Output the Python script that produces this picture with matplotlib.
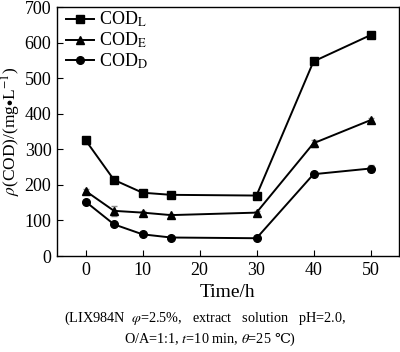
import matplotlib
matplotlib.use('Agg')
import matplotlib.pyplot as plt

plt.rcParams['font.family'] = ['Liberation Serif', 'DejaVu Serif']
plt.rcParams['mathtext.fontset'] = 'stix'

# Data
time = [0, 5, 10, 15, 30, 40, 50]
cod_l = [326, 214, 178, 172, 170, 547, 621]
cod_e = [183, 127, 122, 115, 122, 317, 382]
cod_d = [153, 89, 61, 52, 50, 230, 246]
err_l = [10, 8, 4, 4, 4, 5, 8]
err_e = [4, 15, 5, 4, 5, 10, 5]
err_d = [4, 4, 4, 3, 3, 4, 10]

fig = plt.figure(figsize=(4, 3.52), dpi=100)
ax = fig.add_axes([0.1425, 0.2727, 0.855, 0.7073])

series = [(cod_l, err_l, 's', r'COD$_\mathrm{L}$'),
          (cod_e, err_e, '^', r'COD$_\mathrm{E}$'),
          (cod_d, err_d, 'o', r'COD$_\mathrm{D}$')]
handles = []
for vals, err, m, lab in series:
    ax.errorbar(time, vals, yerr=err, fmt='none', ecolor='#888888',
                elinewidth=1, capsize=2, zorder=2)
    ln, = ax.plot(time, vals, color='black', marker=m, markersize=5.5,
                  linewidth=1.4, label=lab, zorder=3)
    handles.append(ln)

ax.set_xlim(-5, 55)
ax.set_ylim(0, 700)
ax.set_xticks([0, 10, 20, 30, 40, 50])
ax.set_yticks(range(0, 701, 100))
ax.tick_params(direction='in', labelsize=13, length=4, pad=4)
for s in ax.spines.values():
    s.set_linewidth(1)

ax.set_xlabel('Time/h', fontsize=14, labelpad=4)
ax.set_ylabel(r'$\rho$(COD)/(mg$\bullet$L$^{-1}$)', fontsize=12.5, labelpad=1)

ax.legend(handles=handles, loc='upper left', bbox_to_anchor=(0.02, 0.995),
          frameon=False, fontsize=13, handlelength=1.55, handletextpad=0.3,
          labelspacing=0.08, borderpad=0.1, borderaxespad=0)

fig.text(0.5125, 0.097, r'(LIX984N  $\varphi$=2.5%,   extract   solution   pH=2.0,',
         ha='center', va='center', fontsize=10.3)
t2 = fig.text(0.31, 0.035, r'O/A=1:1, $t$=10 min, $\theta$=25',
              ha='left', va='center', fontsize=10.3)
fig.canvas.draw()
bb = t2.get_window_extent().transformed(fig.transFigure.inverted())
fig.text(bb.x1 + 0.008, 0.035, '℃)', ha='left', va='center', fontsize=10.3)

fig.savefig('out.png', dpi=100)
